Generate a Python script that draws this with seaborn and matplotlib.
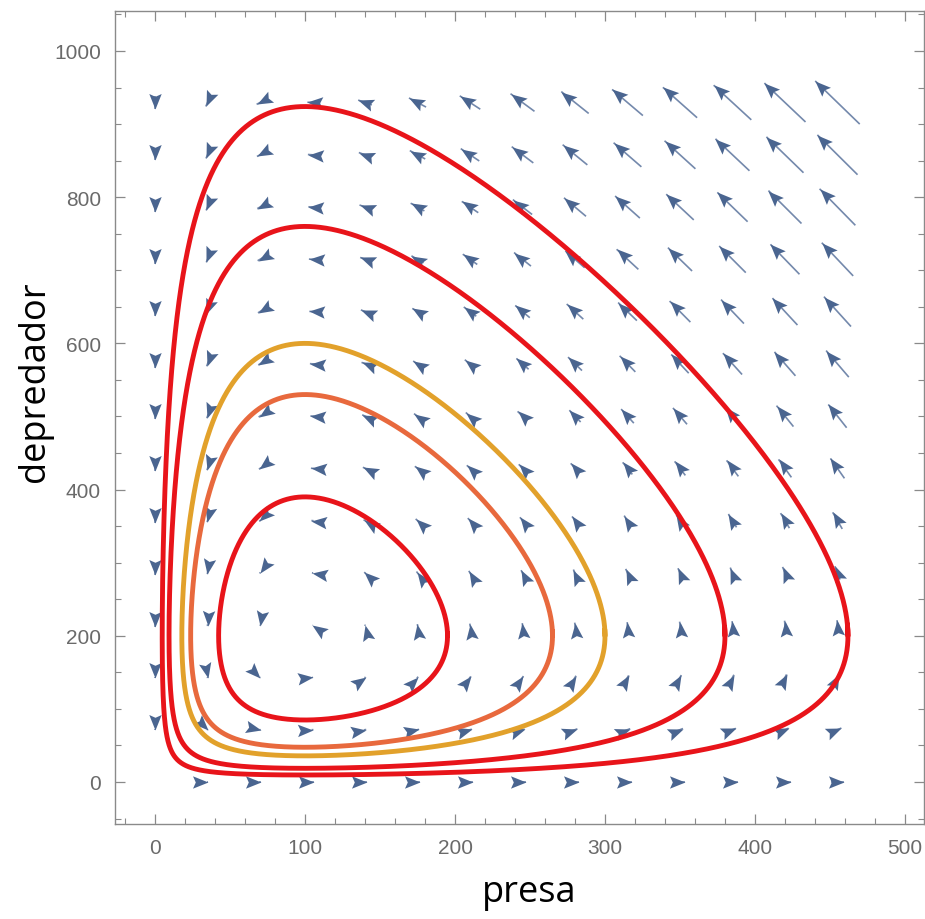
import numpy as np
import pandas as pd
import matplotlib
matplotlib.use("Agg")
import matplotlib.pyplot as plt
from matplotlib.markers import MarkerStyle
from matplotlib.path import Path
import seaborn as sns

# ---------------- data ----------------
# Lotka-Volterra model parameters: dx/dt = x(a - b y), dy/dt = y(-c + d x)
a_par, b_par, c_par, d_par = 1.0, 1.0 / 200.0, 1.0, 1.0 / 100.0
# starting prey values of the orbits (at predator = 200)
orbit_x0 = [195, 265, 300, 380, 462]
orbit_y0 = [200, 200, 200, 200, 200]
orbit_names = ["o1", "o2", "o3", "o4", "o5"]
orbit_colors = ["#E8141A", "#E8693D", "#E2A12B", "#E8141A", "#E8141A"]
# vector-field sample grid
field_x = [0, 35, 70, 105, 140, 175, 210, 245, 280, 315, 350, 385, 420, 455]
field_y = [0, 71.5, 143, 214.5, 286, 357.5, 429, 500.5, 572, 643.5, 715,
           786.5, 858, 929.5]
x_ticks = [0, 100, 200, 300, 400, 500]
y_ticks = [0, 200, 400, 600, 800, 1000]

# ---------------- style ----------------
sns.set_theme(style="ticks")
plt.rcParams["font.family"] = ["Liberation Sans Narrow", "Liberation Sans", "DejaVu Sans"]

W, H = 925, 920
fig = plt.figure(figsize=(W / 100, H / 100), dpi=100)
L, R, T, B = 115, 924, 12, 825
ax = fig.add_axes([L / W, 1 - B / H, (R - L) / W, (B - T) / H])
xlim = (-26.7, 512.7)
ylim = (-57.5, 1054.7)
ax.set_xlim(*xlim)
ax.set_ylim(*ylim)


def field(x, y):
    return x * (a_par - b_par * y), y * (-c_par + d_par * x)


# ---------------- orbits (RK4 integration, one revolution) ----------------
x0 = np.array(orbit_x0, float)
y0 = np.array(orbit_y0, float)
xe, ye = c_par / d_par, a_par / b_par
dt = 0.002
nsteps = 15000
X = np.empty((nsteps + 1, len(x0)))
Y = np.empty_like(X)
X[0], Y[0] = x0, y0
x, y = x0.copy(), y0.copy()
for i in range(nsteps):
    k1x, k1y = field(x, y)
    k2x, k2y = field(x + 0.5 * dt * k1x, y + 0.5 * dt * k1y)
    k3x, k3y = field(x + 0.5 * dt * k2x, y + 0.5 * dt * k2y)
    k4x, k4y = field(x + dt * k3x, y + dt * k3y)
    x = x + dt / 6 * (k1x + 2 * k2x + 2 * k3x + k4x)
    y = y + dt / 6 * (k1y + 2 * k2y + 2 * k3y + k4y)
    X[i + 1], Y[i + 1] = x, y

rows = []
for j, name in enumerate(orbit_names):
    ang = np.unwrap(np.arctan2(Y[:, j] / ye - 1, X[:, j] / xe - 1))
    ang = np.abs(ang - ang[0])
    idx = np.argmax(ang >= 2 * np.pi + 0.02)
    if idx == 0:
        idx = nsteps
    rows.append(pd.DataFrame({"presa": X[: idx + 1, j],
                              "depredador": Y[: idx + 1, j],
                              "orbit": name}))
df = pd.concat(rows, ignore_index=True)

# ---------------- vector field arrows ----------------
sx = (R - L) / (xlim[1] - xlim[0])
sy = (B - T) / (ylim[1] - ylim[0])
GX, GY = np.meshgrid(np.array(field_x, float), np.array(field_y, float))
U, V = field(GX, GY)
plen = np.hypot(U * sx, V * sy)
max_len_px = 62.0
s = max_len_px / plen.max()

head = Path([(0, 0), (-1, 0.40), (-0.82, 0), (-1, -0.40), (0, 0)],
            [Path.MOVETO, Path.LINETO, Path.LINETO, Path.LINETO, Path.CLOSEPOLY])
arrow_col = "#4A6590"
shaft_col = "#7489AC"
head_len_px = 15.5
ms = 2 * head_len_px * 72 / 100
for gx, gy, u, v, pl in zip(GX.ravel(), GY.ravel(), U.ravel(), V.ravel(), plen.ravel()):
    if pl == 0:
        continue
    tipx, tipy = gx + 0.5 * s * u, gy + 0.5 * s * v
    tailx, taily = gx - 0.5 * s * u, gy - 0.5 * s * v
    ax.plot([tailx, tipx], [taily, tipy], color=shaft_col, lw=1.2,
            solid_capstyle="butt", zorder=2)
    angle = np.degrees(np.arctan2(v * sy, u * sx))
    m = MarkerStyle(head).rotated(deg=angle)
    ax.plot([tipx], [tipy], marker=m, markersize=ms, color=arrow_col,
            markeredgewidth=0, linestyle="none", zorder=3)

# ---------------- orbit curves ----------------
sns.lineplot(data=df, x="presa", y="depredador", hue="orbit",
             palette=dict(zip(orbit_names, orbit_colors)), sort=False,
             estimator=None, legend=False, linewidth=3.5, ax=ax, zorder=4)

# ---------------- axes styling ----------------
frame_col = "#8A8A8A"
for sp in ax.spines.values():
    sp.set_visible(True)
    sp.set_color(frame_col)
    sp.set_linewidth(1.0)
ax.set_xticks(x_ticks)
ax.set_yticks(y_ticks)
ax.set_xticks(np.arange(-20, 520, 20), minor=True)
ax.set_yticks(np.arange(-50, 1051, 50), minor=True)
ax.tick_params(which="both", direction="in", top=True, right=True,
               labeltop=False, labelright=False, color=frame_col,
               labelcolor="#6A6A6A", labelsize=15)
ax.tick_params(which="major", length=7, width=0.9, pad=10)
ax.tick_params(which="minor", length=4, width=0.8)
ax.grid(False)

ax.set_xlabel("presa", fontsize=26, family=["Open Sans", "DejaVu Sans"], color="black")
ax.set_ylabel("depredador", fontsize=26, family=["Open Sans", "DejaVu Sans"], color="black")
ax.xaxis.set_label_coords(0.512, -0.062)
ax.yaxis.set_label_coords(-0.077, 0.545)

fig.savefig("out.png", dpi=100)
